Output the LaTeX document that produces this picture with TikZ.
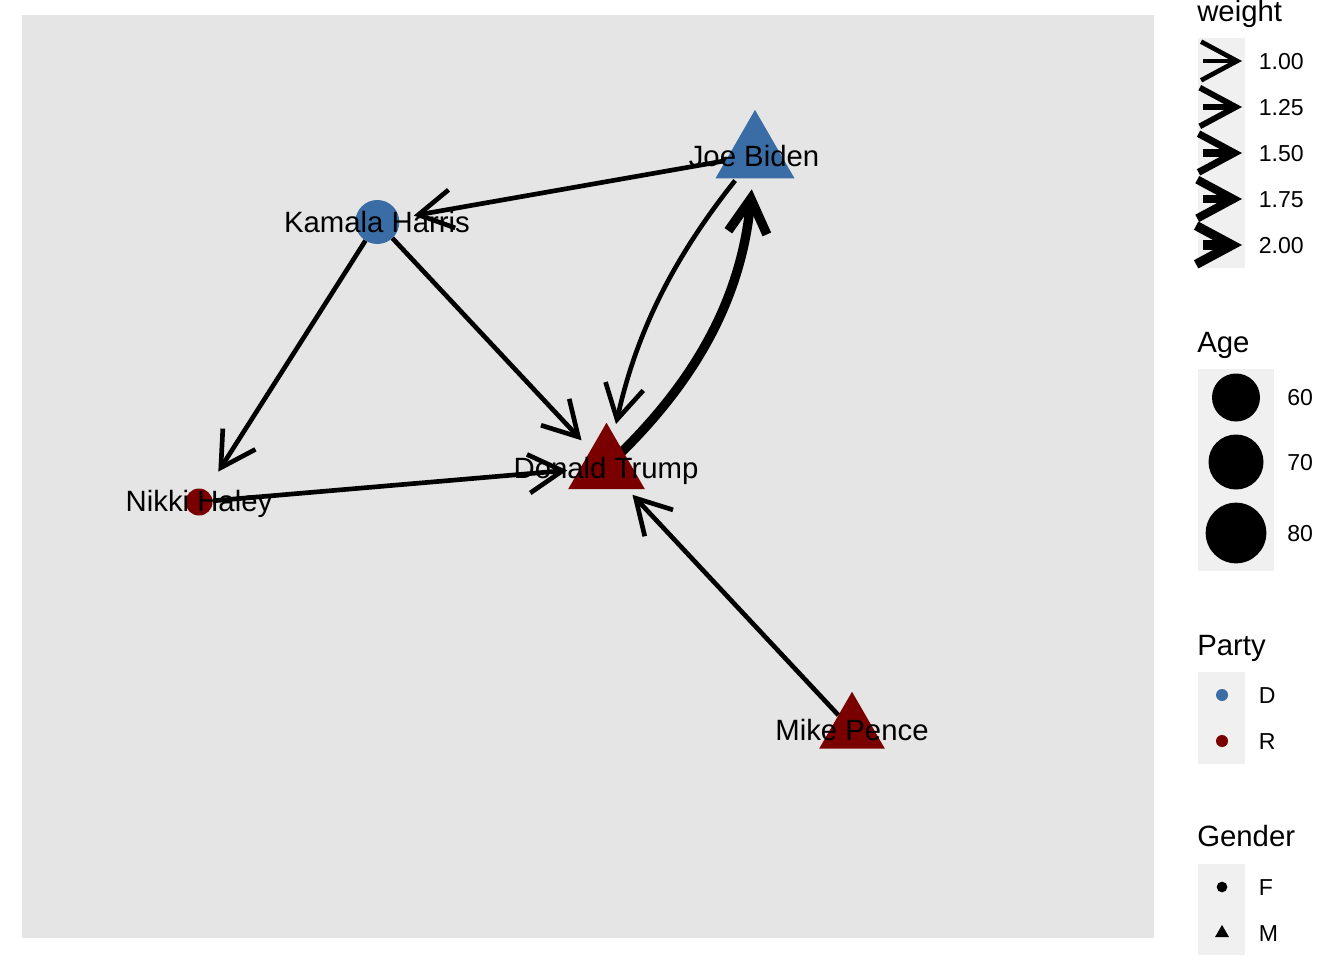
\documentclass[tikz,border=0pt]{standalone}
\usepackage{fontspec}
\setmainfont{Liberation Sans}
\usetikzlibrary{arrows.meta,shapes.geometric}

\definecolor{dem}{HTML}{3A6DA5}
\definecolor{rep}{HTML}{7A0000}
\definecolor{panelgrey}{HTML}{E5E5E5}
\definecolor{keygrey}{HTML}{F0F0F0}

\pgfdeclarelayer{bglayer}
\pgfdeclarelayer{edgelayer}
\pgfsetlayers{bglayer,edgelayer,main}

\tikzset{
  tri/.style={regular polygon, regular polygon sides=3, inner sep=0pt, outer sep=0pt, minimum size=#1},
  disc/.style={circle, inner sep=0pt, outer sep=0pt, minimum size=#1},
  who/.style={font=\fontsize{22pt}{26pt}\selectfont, anchor=base, inner sep=0pt},
  legtitle/.style={font=\fontsize{22pt}{26pt}\selectfont, anchor=base west, inner sep=0pt},
  legtext/.style={font=\fontsize{17.3pt}{20pt}\selectfont, anchor=base west, inner sep=0pt},
  tie/.style={line width=#1, -{Straight Barb[sharp,length=25.5pt,width=29pt]}},
  keytie/.style={line width=#1, -{Straight Barb[sharp,length=27pt,width=29pt]}},
}

\begin{document}
\begin{tikzpicture}[x=0.75pt,y=-0.75pt]
  % canvas and plotting panel
  \begin{pgfonlayer}{bglayer}
    \fill[white] (0,0) rectangle (1344,960);
    \fill[panelgrey] (22,15) rectangle (1154,938);
  \end{pgfonlayer}
  \useasboundingbox (0,0) rectangle (1344,960);

  % people (shape = gender, colour = party, size = age)
  \node[tri=68.4pt, fill=dem] (B) at (755,155.5) {};
  \node[disc=33pt, fill=dem] (K) at (377.3,222) {};
  \node[tri=66.4pt, fill=rep] (T) at (606.5,467) {};
  \node[disc=20.25pt, fill=rep] (H) at (199,502) {};
  \node[tri=56.9pt, fill=rep] (P) at (852,729.7) {};

  % directed ties, underneath the markers
  \begin{pgfonlayer}{edgelayer}
    \draw[tie=3.5pt, shorten <=18pt, shorten >=27.75pt] (B.center) -- (K.center);
    \draw[tie=3.5pt, shorten <=16.5pt, shorten >=27.4pt] (K.center) -- (T.center);
    \draw[tie=3.5pt, shorten <=16.5pt, shorten >=27pt] (K.center) -- (H.center);
    \draw[tie=3.5pt, shorten <=10.5pt, shorten >=29.6pt] (H.center) -- (T.center);
    \draw[tie=3.5pt, shorten <=15pt, shorten >=28.5pt] (P.center) -- (T.center);
    \draw[tie=3.5pt, shorten <=24pt, shorten >=33pt] (B.center) to[bend right=13] (T.center);
    \draw[tie=7pt, shorten <=15pt, shorten >=25.5pt] (T.center) to[bend right=20] (B.center);
  \end{pgfonlayer}

  % names
  \node[who] (B-name) at (754,166.5) {Joe Biden};
  \node[who] (K-name) at (377,232.7) {Kamala Harris};
  \node[who] (T-name) at (606,478.3) {Donald Trump};
  \node[who] (H-name) at (199,511.7) {Nikki Haley};
  \node[who] (P-name) at (852,740) {Mike Pence};

  % legend: weight
  \node[legtitle] (wt-title) at (1197,21.7) {weight};
  \fill[keygrey] (1198.3,38.3) rectangle (1245,268.3);
  \foreach \w/\y/\lw [count=\i] in {1.00/61/3.5pt, 1.25/107/4.4pt, 1.50/153/5.3pt, 1.75/199/6.2pt, 2.00/245/7pt}{
    \coordinate (wk\i a) at (1203,\y);
    \coordinate (wk\i b) at (1242,\y);
    \draw[keytie=\lw] (wk\i a) -- (wk\i b);
    \node[legtext] (wk\i-text) at (1258.5,\y+8) {\w};
  }

  % legend: age
  \node[legtitle] (age-title) at (1197,352) {Age};
  \fill[keygrey] (1198.3,369.3) rectangle (1274,571);
  \node[disc=36pt, fill=black] (age60) at (1236,397.5) {};
  \node[disc=41.25pt, fill=black] (age70) at (1236,462) {};
  \node[disc=45.5pt, fill=black] (age80) at (1236,533) {};
  \node[legtext] (age60-text) at (1287,405.5) {60};
  \node[legtext] (age70-text) at (1287,470) {70};
  \node[legtext] (age80-text) at (1287,541) {80};

  % legend: party
  \node[legtitle] (party-title) at (1197,655) {Party};
  \fill[keygrey] (1198.3,671.7) rectangle (1245,764);
  \node[disc=9pt, fill=dem] (party-d) at (1222,695) {};
  \node[disc=9pt, fill=rep] (party-r) at (1222,741) {};
  \node[legtext] (party-d-text) at (1258.5,703) {D};
  \node[legtext] (party-r-text) at (1258.5,749) {R};

  % legend: gender
  \node[legtitle] (gender-title) at (1197,846) {Gender};
  \fill[keygrey] (1198.3,864) rectangle (1245,955);
  \node[disc=8pt, fill=black] (gender-f) at (1222,887) {};
  \node[tri=12.1pt, fill=black] (gender-m) at (1222,933) {};
  \node[legtext] (gender-f-text) at (1258.5,895) {F};
  \node[legtext] (gender-m-text) at (1258.5,941) {M};
\end{tikzpicture}
\end{document}
